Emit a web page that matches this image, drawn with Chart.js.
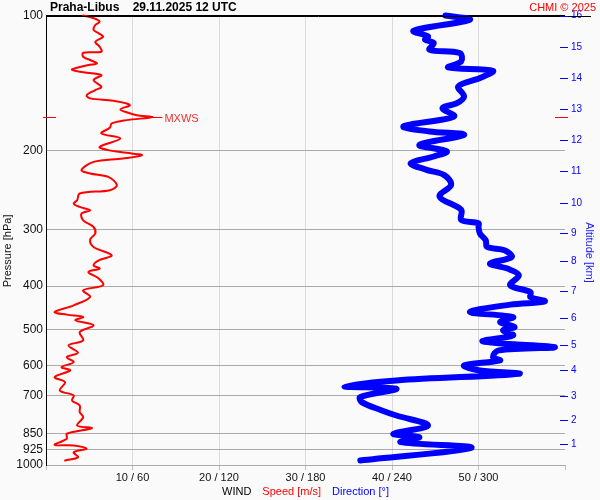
<!DOCTYPE html>
<html><head><meta charset="utf-8">
<script src="https://cdn.jsdelivr.net/npm/chart.js@4.4.1/dist/chart.umd.min.js"></script>
<style>html,body{margin:0;padding:0;background:#fafafa;}#wrap{width:600px;height:500px;position:relative;}</style>
</head><body><div id="wrap"><canvas id="c"></canvas></div>
<script>
const titleText = 'Praha-Libus    29.11.2025 12 UTC';
const copyrightText = 'CHMI © 2025';
const pressureTicks = [100,200,300,400,500,600,700,850,925,1000];
const speedTicks = [10,20,30,40,50];
const dirTicks = [60,120,180,240,300];
const altitudeKm = [1,2,3,4,5,6,7,8,9,10,11,12,13,14,15,16];
const altitudePressure = [900.3,794.9,703.9,615.9,541.9,471.8,410.8,352.2,305.1,261.2,221.6,189.1,161.3,138.0,117.7,100];

const speedPressure = [100,101.4,103.2,105.0,107.7,109.6,111.5,114.4,117.3,120.4,
 121.0,123.5,125.6,127.8,128.9,131.8,133.4,135.7,139.2,144.1,
 146.5,150.4,152.9,154.8,158.2,161.8,164.6,166.6,168.3,170.9,
 173.8,177.5,182.9,187.7,196.0,199.3,202.1,204.5,208.0,211.7,
 220.8,224.6,228.6,238.5,244.7,248.9,257.6,262.0,266.6,271.2,
 275.8,285.5,295.5,305.6,315.1,327.3,341.5,350.4,359.5,365.6,
 372.1,384.9,398.3,408.7,422.9,441.3,456.7,462.9,468.6,476.6,
 489.0,506.0,528.1,541.9,562.5,575.4,590.3,605.7,616.0,637.6,
 654.2,682.6,700.3,718.5,737.2,763.0,782.8,816.8,827.9,852.1,
 874.2,901.6,904.9,920.1,936.4,960.7,977.2];
const speedValues = [4.3,5.5,6.2,5.7,5.5,6.1,6.6,5.7,6.2,6.4,
 4.3,4.3,5.1,5.9,4.9,3.0,3.9,6.4,5.5,6.4,
 5.7,4.7,5.1,7.8,9.7,8.6,9.5,10.5,12.3,9.3,
 7.6,7.4,6.4,8.6,6.2,7.2,9.3,11.1,8.9,5.5,
 4.1,5.1,7.2,8.2,7.4,3.9,3.6,3.2,3.9,5.1,
 4.1,4.3,5.5,5.7,5.1,5.5,7.6,6.1,5.5,6.2,
 4.9,6.1,6.6,4.3,5.1,3.2,1.0,2.4,4.3,3.4,
 5.5,3.9,4.3,2.6,3.7,2.4,3.2,1.8,2.8,1.0,
 2.2,1.6,3.2,3.0,3.9,3.9,4.3,3.6,5.3,2.4,
 2.4,1.0,3.2,4.7,3.2,3.7,2.2];

const dirPressure = [100,102.2,108.1,111.3,113.2,115.1,119.2,121.2,126.5,130.5,
 132.7,137.8,143.8,151.4,156.7,160.7,167.7,176.5,181.1,184.3,
 194.0,200.6,205.9,213.1,220.5,226.3,238.1,252.8,270.7,285.0,
 289.9,295.4,305.6,316.2,327.3,332.9,344.5,356.4,365.6,378.4,
 398.3,412.3,422.9,432.4,439.7,456.7,468.6,480.8,493.3,501.6,
 514.6,530.8,546.6,555.9,575.4,585.3,600.5,616.0,626.6,648.4,
 668.7,676.6,706.3,724.6,756.2,776.0,816.8,852.1,867.2,889.7,
 915.5,977.2];
const dirValues = [277,294,255,265,263,269,266,287,288,279,
 310,301,286,290,285,275,283,248,266,290,
 259,278,269,253,264,276,281,273,288,288,
 300,300,301,305,306,318,323,308,320,328,
 322,336,336,346,322,294,324,315,325,317,
 324,303,353,314,310,315,290,301,328,243,
 207,243,218,219,233,243,265,241,259,246,
 295,218];

const FONT = '"Liberation Sans", Arial, sans-serif';
Chart.defaults.font.family = FONT;
Chart.defaults.font.size = 11;
Chart.defaults.color = '#111';

const deco = {
  id: 'deco',
  afterDraw(chart) {
    const {ctx, chartArea: a, scales} = chart;
    ctx.save();
    ctx.strokeStyle = '#000'; ctx.lineWidth = 1;
    ctx.beginPath(); ctx.moveTo(a.left, Math.round(a.top)+0.5); ctx.lineTo(a.right + 26, Math.round(a.top)+0.5); ctx.stroke();
    ctx.strokeStyle = 'blue'; ctx.lineWidth = 1;
    scales.y2.ticks.forEach(t => {
      const y = Math.round(scales.y2.getPixelForValue(t.value)) + 0.5;
      ctx.beginPath(); ctx.moveTo(a.right - 5, y); ctx.lineTo(a.right + 3, y); ctx.stroke();
    });
    let mi = 0;
    speedValues.forEach((v, i) => { if (v > speedValues[mi]) mi = i; });
    const my = Math.round(scales.y.getPixelForValue(speedPressure[mi])) + 0.5;
    const mx = scales.x.getPixelForValue(speedValues[mi]);
    ctx.strokeStyle = '#ff0000';
    ctx.beginPath(); ctx.moveTo(a.left - 3, my); ctx.lineTo(a.left + 10, my); ctx.stroke();
    ctx.beginPath(); ctx.moveTo(mx, my); ctx.lineTo(mx + 10, my); ctx.stroke();
    ctx.beginPath(); ctx.moveTo(a.right - 10, my); ctx.lineTo(a.right + 3, my); ctx.stroke();
    ctx.fillStyle = '#f03030'; ctx.font = '11px ' + FONT;
    ctx.textAlign = 'left'; ctx.textBaseline = 'middle';
    ctx.fillText('MXWS', mx + 12, my + 1);
    ctx.textBaseline = 'alphabetic';
    ctx.fillStyle = '#000'; ctx.font = 'bold 12px ' + FONT;
    ctx.fillText(titleText, a.left + 4, 11);
    ctx.fillStyle = '#ff0000'; ctx.font = '11px ' + FONT; ctx.textAlign = 'right';
    ctx.fillText(copyrightText, 596, 11);
    const parts = [['WIND', '#000'], ['Speed [m/s]', '#ff0000'], ['Direction [°]', '#0000ff']];
    const gap = 11;
    ctx.font = '11px ' + FONT; ctx.textAlign = 'left';
    const widths = parts.map(p => ctx.measureText(p[0]).width);
    const total = widths.reduce((s, w) => s + w, 0) + gap * (parts.length - 1);
    let x = (a.left + a.right) / 2 - total / 2;
    parts.forEach((p, i) => { ctx.fillStyle = p[1]; ctx.fillText(p[0], x, 495); x += widths[i] + gap; });
    ctx.restore();
  }
};

new Chart(document.getElementById('c'), {
  type: 'scatter',
  data: {
    datasets: [
      {
        label: 'Speed',
        data: speedValues.map((v, i) => ({x: v, y: speedPressure[i]})),
        xAxisID: 'x', yAxisID: 'y',
        showLine: true, borderColor: '#ff0000', borderWidth: 2, tension: 0.35,
        pointRadius: 0, borderJoinStyle: 'round', borderCapStyle: 'round', clip: false
      },
      {
        label: 'Direction',
        data: dirValues.map((v, i) => ({x: v, y: dirPressure[i]})),
        xAxisID: 'x2', yAxisID: 'y',
        showLine: true, borderColor: '#0000ff', borderWidth: 6, tension: 0.35,
        pointRadius: 0, borderJoinStyle: 'round', borderCapStyle: 'round', clip: false
      }
    ]
  },
  options: {
    responsive: true, maintainAspectRatio: false, animation: false,
    layout: {padding: {top: 15.5, left: 0, right: 0, bottom: 0}},
    plugins: {legend: {display: false}, tooltip: {enabled: false}, title: {display: false}},
    scales: {
      x: {
        type: 'linear', min: 0, max: 60, position: 'bottom',
        afterBuildTicks: s => { s.ticks = [0, ...speedTicks, 60].map(v => ({value: v})); },
        afterFit: s => { s.height = 35; },
        ticks: {
          autoSkip: false, maxRotation: 0, padding: 1, color: '#111', font: {size: 11},
          callback: v => { const i = speedTicks.indexOf(v); return i < 0 ? '' : speedTicks[i] + ' / ' + dirTicks[i]; }
        },
        grid: {
          color: c => (c.tick && (c.tick.value === 0 || c.tick.value === 60)) ? 'rgba(0,0,0,0)' : '#dadada',
          tickColor: '#c0c0c0', tickLength: 5
        },
        border: {display: true, color: '#aaaaaa'}
      },
      x2: {type: 'linear', min: 0, max: 360, display: false},
      y: {
        type: 'logarithmic', reverse: true, min: 100, max: 1000, position: 'left',
        afterBuildTicks: s => { s.ticks = pressureTicks.map(v => ({value: v})); },
        afterFit: s => { s.width = 46; },
        ticks: {autoSkip: false, padding: 3, color: '#111', font: {size: 12}, callback: v => String(v)},
        grid: {color: c => (c.tick && c.tick.value === 100) ? '#000' : '#aaaaaa', drawTicks: false},
        border: {display: true, color: '#000'},
        title: {display: true, text: 'Pressure [hPa]       ', color: '#111', font: {size: 11}, padding: {top: 1, bottom: 0}}
      },
      y2: {
        type: 'logarithmic', reverse: true, min: 100, max: 1000, position: 'right',
        afterBuildTicks: s => { s.ticks = altitudePressure.map(v => ({value: v})); },
        afterFit: s => { s.width = 35; },
        ticks: {autoSkip: false, padding: 6, color: '#0000ff', font: {size: 10},
          callback: (v, i) => String(altitudeKm[i])},
        grid: {display: false, drawTicks: false},
        border: {display: false},
        title: {display: true, text: '        Altitude [km]', color: '#2020ff', font: {size: 11}, padding: {top: 4, bottom: 0}}
      }
    }
  },
  plugins: [deco]
});
</script></body></html>
